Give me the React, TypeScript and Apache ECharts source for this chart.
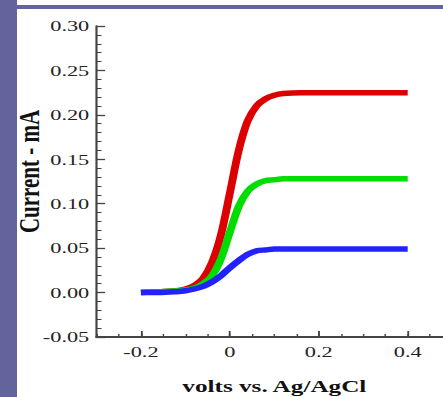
import React, { useEffect, useRef } from "react";
import * as echarts from "echarts";

const volts = [-0.2, -0.16, -0.12, -0.1, -0.08, -0.06, -0.04, -0.02, 0, 0.02, 0.04, 0.06, 0.08, 0.1, 0.12, 0.16, 0.2, 0.3, 0.4];
const redCurrent = [0.0, 0.001, 0.002, 0.004, 0.008, 0.016, 0.034, 0.065, 0.112, 0.16, 0.193, 0.21, 0.218, 0.222, 0.224, 0.225, 0.225, 0.225, 0.225];
const greenCurrent = [0.0, 0.001, 0.002, 0.003, 0.005, 0.01, 0.019, 0.038, 0.068, 0.097, 0.114, 0.122, 0.126, 0.127, 0.128, 0.128, 0.128, 0.128, 0.128];
const blueCurrent = [0.0, 0.0, 0.001, 0.002, 0.004, 0.007, 0.012, 0.019, 0.028, 0.036, 0.043, 0.047, 0.048, 0.049, 0.049, 0.049, 0.049, 0.049, 0.049];
const xTickLabels = [-0.2, 0, 0.2, 0.4];

const FONT = "Liberation Serif";
const AXIS_COLOR = "#444";
const PURPLE = "#63649b";
const STRETCH = 1.44;

function pairs(ys: number[]) {
  return volts.map((v, i) => [v, ys[i]]);
}

export default function App() {
  const ref = useRef<HTMLDivElement>(null);
  useEffect(() => {
    if (!ref.current) return;
    const chart = echarts.init(ref.current, null, { renderer: "svg" });
    const mk = (name: string, ys: number[], color: string) => ({
      name,
      type: "line",
      xAxisIndex: 0,
      yAxisIndex: 0,
      data: pairs(ys),
      showSymbol: false,
      smooth: 0.3,
      lineStyle: { color, width: 5.5 },
      itemStyle: { color },
    });
    chart.setOption({
      animation: false,
      backgroundColor: "transparent",
      grid: { left: 67, right: 6, top: 26, bottom: 60, containLabel: false, outerBoundsMode: "none" },
      xAxis: [
        {
          type: "value",
          min: -0.3,
          max: 0.5,
          interval: 0.05,
          position: "bottom",
          axisLine: { show: true, onZero: false, lineStyle: { color: AXIS_COLOR, width: 2 } },
          axisTick: { show: true, inside: true, length: 3, lineStyle: { color: AXIS_COLOR, width: 1 } },
          axisLabel: { show: false },
          splitLine: { show: false },
        },
        {
          type: "value",
          min: -0.3,
          max: 0.5,
          interval: 0.05,
          position: "bottom",
          name: "volts vs. Ag/AgCl",
          nameLocation: "middle",
          nameGap: 40,
          nameMoveOverlap: false,
          nameTextStyle: { fontFamily: FONT, fontWeight: "bold", fontSize: 17.5, color: "#111" },
          axisLine: { show: false, onZero: false },
          axisTick: {
            show: true,
            inside: true,
            length: 6,
            customValues: xTickLabels,
            lineStyle: { color: AXIS_COLOR, width: 1.3 },
          },
          axisLabel: {
            show: true,
            customValues: xTickLabels,
            fontFamily: FONT,
            fontSize: 15.5,
            color: "#222",
            margin: 7,
            formatter: (v: number) => (Math.abs(v) < 1e-9 ? "0" : String(Math.round(v * 10) / 10)),
          },
          splitLine: { show: false },
        },
      ],
      yAxis: {
        type: "value",
        min: -0.05,
        max: 0.3,
        interval: 0.05,
        name: "Current - mA",
        nameLocation: "middle",
        nameGap: 36.5,
        nameMoveOverlap: false,
        nameTextStyle: { fontFamily: FONT, fontWeight: "bold", fontSize: 21, color: "#111", padding: [0, 0, 0, 20] },
        axisLine: { show: true, onZero: false, lineStyle: { color: AXIS_COLOR, width: 1.5 } },
        axisTick: { show: true, inside: true, length: 6, lineStyle: { color: AXIS_COLOR, width: 1.3 } },
        minorTick: { show: true, splitNumber: 5, length: 3.5, lineStyle: { color: AXIS_COLOR, width: 1 } },
        axisLabel: {
          fontFamily: FONT,
          fontSize: 15.5,
          color: "#222",
          margin: 5,
          formatter: (v: number) => v.toFixed(2),
        },
        splitLine: { show: false },
      },
      series: [
        mk("red", redCurrent, "#dd0000"),
        mk("green", greenCurrent, "#00dd00"),
        mk("blue", blueCurrent, "#2222ff"),
      ],
    });
    return () => chart.dispose();
  }, []);

  return (
    <div style={{ position: "fixed", left: 0, top: 0, width: 443, height: 397, overflow: "hidden", background: "#fff" }}>
      <div style={{ position: "absolute", left: 0, top: 0, width: 17, height: 397, background: PURPLE }} />
      <div style={{ position: "absolute", left: 17, top: 5, width: 426, height: 4, background: PURPLE }} />
      <div
        ref={ref}
        style={{
          position: "absolute",
          left: 0,
          top: 0,
          width: 320,
          height: 397,
          transform: `scaleX(${STRETCH})`,
          transformOrigin: "0 0",
        }}
      />
    </div>
  );
}
